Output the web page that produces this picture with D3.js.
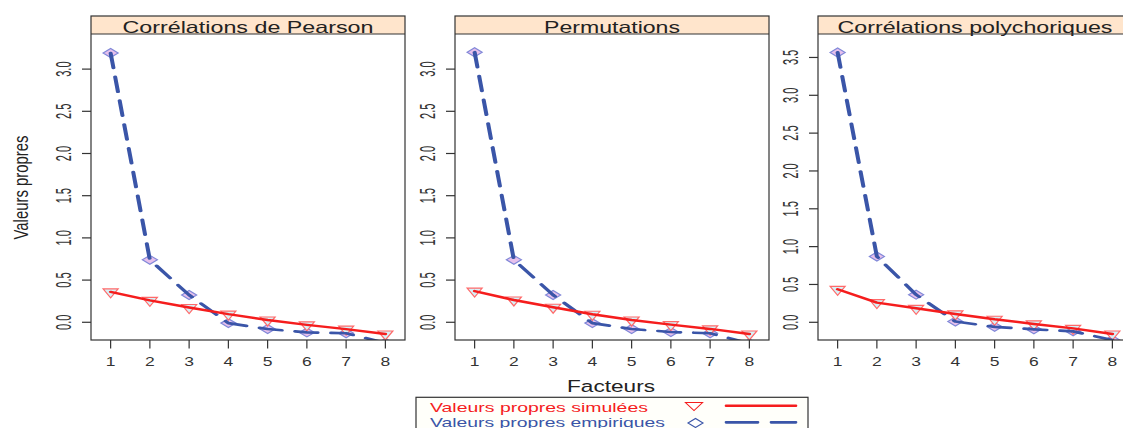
<!DOCTYPE html>
<html><head><meta charset="utf-8">
<script src="https://cdn.jsdelivr.net/npm/d3@7"></script>
<style>body{margin:0;background:#fff}svg{display:block}text{font-family:"Liberation Sans",Arial,sans-serif}</style>
</head><body>
<svg id="c" width="1123" height="428"></svg>
<script>
const factors = [1,2,3,4,5,6,7,8];
const panelTitles = ["Corrélations de Pearson","Permutations","Corrélations polychoriques"];
const pearsonSim = [0.36,0.26,0.175,0.097,0.027,-0.03,-0.081,-0.139];
const pearsonEmp = [3.19,0.74,0.323,-0.01,-0.08,-0.12,-0.13,-0.245];
const permSim = [0.37,0.264,0.178,0.095,0.027,-0.028,-0.079,-0.139];
const permEmp = [3.20,0.74,0.323,-0.01,-0.08,-0.115,-0.13,-0.25];
const polySim = [0.436,0.26,0.185,0.11,0.04,-0.022,-0.08,-0.155];
const polyEmp = [3.566,0.87,0.365,0.01,-0.06,-0.093,-0.12,-0.235];
const yTicks12 = [0,0.5,1,1.5,2,2.5,3];
const yTicks3 = [0,0.5,1,1.5,2,2.5,3,3.5];
const yTickLabels12 = ["0.0","0.5","1.0","1.5","2.0","2.5","3.0"];
const yTickLabels3 = ["0.0","0.5","1.0","1.5","2.0","2.5","3.0","3.5"];
const xLabel = "Facteurs", yLabel = "Valeurs propres";
const legendLabels = ["Valeurs propres simulées","Valeurs propres empiriques"];

const simSeries = [pearsonSim, permSim, polySim];
const empSeries = [pearsonEmp, permEmp, polyEmp];
const tickSets = [[yTicks12,yTickLabels12],[yTicks12,yTickLabels12],[yTicks3,yTickLabels3]];
const yDomains = [[-0.21,3.416],[-0.21,3.416],[-0.234,3.81]];
const panelX = [91,455,818];
const PW = 314, TOP = 16, STRIP = 34, BOT = 340;
const K = 1.5; // horizontal stretch of the original image
const RED = "#f51d1d", BLUE = "#3a55a8";

const svg = d3.select("#c");
const defs = svg.append("defs");

function tri(cx, cy, w, h){ // down-pointing, centroid at cy
  return `M${cx-w/2},${cy-h/3}L${cx+w/2},${cy-h/3}L${cx},${cy+2*h/3}Z`;
}
function dia(cx, cy, w, h){
  return `M${cx-w/2},${cy}L${cx},${cy-h/2}L${cx+w/2},${cy}L${cx},${cy+h/2}Z`;
}

panelTitles.forEach((title, p) => {
  const x0 = panelX[p];
  const xs = d3.scaleLinear().domain([0.5,8.5]).range([0, PW]);
  const xsS = d3.scaleLinear().domain([0.5,8.5]).range([0, PW/K]);
  const ys = d3.scaleLinear().domain(yDomains[p]).range([BOT, STRIP]);
  const g = svg.append("g").attr("transform", `translate(${x0},0)`);

  // strip
  g.append("rect").attr("x",0).attr("y",TOP).attr("width",PW).attr("height",STRIP-TOP)
    .attr("fill","#ffe5cc");
  g.append("text").attr("x",PW/2).attr("y",32.5).attr("text-anchor","middle")
    .attr("font-size",16.5).attr("fill","#222")
    .attr("textLength", [251,136,275][p]).attr("lengthAdjust","spacingAndGlyphs").text(title);

  // clip
  defs.append("clipPath").attr("id","clip"+p).append("rect")
    .attr("x",0).attr("y",STRIP).attr("width",PW).attr("height",BOT-STRIP);
  const cg = g.append("g").attr("clip-path",`url(#clip${p})`);

  const sim = simSeries[p], emp = empSeries[p];
  // markers
  cg.selectAll("path.em").data(emp).join("path").attr("class","em")
    .attr("d",(d,i)=>dia(xs(factors[i]), ys(d), 15, 9))
    .attr("fill","#e6c0ec").attr("stroke","#8088d8").attr("stroke-width",1.2);
  cg.selectAll("path.sm").data(sim).join("path").attr("class","sm")
    .attr("d",(d,i)=>tri(xs(factors[i]), ys(d), 15, 9))
    .attr("fill","#d6f2f8").attr("stroke","#ff6a6a").attr("stroke-width",1.2);

  // lines in stretched space
  const sg = cg.append("g").attr("transform",`scale(${K},1)`);
  const line = d3.line().x((d,i)=>xsS(factors[i])).y(d=>ys(d));
  sg.append("path").attr("d", line(emp)).attr("fill","none").attr("stroke",BLUE)
    .attr("stroke-width",2.7).attr("stroke-linecap","round").attr("stroke-linejoin","round")
    .attr("stroke-dasharray","15,9");
  sg.append("path").attr("d", line(sim)).attr("fill","none").attr("stroke",RED)
    .attr("stroke-width",2.4).attr("stroke-linecap","round").attr("stroke-linejoin","round");

  // frame
  g.append("rect").attr("x",0).attr("y",TOP).attr("width",PW).attr("height",BOT-TOP)
    .attr("fill","none").attr("stroke","#333").attr("stroke-width",1.2);
  g.append("line").attr("x1",0).attr("x2",PW).attr("y1",STRIP).attr("y2",STRIP)
    .attr("stroke","#333").attr("stroke-width",1.2);

  // y axis
  const [yt, ytl] = tickSets[p];
  yt.forEach((v,i)=>{
    g.append("line").attr("x1",-9).attr("x2",0).attr("y1",ys(v)).attr("y2",ys(v))
      .attr("stroke","#333").attr("stroke-width",1.2);
    g.append("text").attr("transform",`translate(-20.5,${ys(v)}) scale(2.0,1) rotate(-90)`)
      .attr("text-anchor","middle").attr("font-size",11).attr("fill","#333").text(ytl[i]);
  });
  // x axis
  factors.forEach(f=>{
    g.append("line").attr("x1",xs(f)).attr("x2",xs(f)).attr("y1",BOT).attr("y2",BOT+8.5)
      .attr("stroke","#333").attr("stroke-width",1.2);
    g.append("text").attr("transform",`translate(${xs(f)},366) scale(1.4,1)`)
      .attr("text-anchor","middle").attr("font-size",12.5).attr("fill","#333").text(f);
  });
});

// axis titles
svg.append("text").attr("x",611).attr("y",391.5).attr("text-anchor","middle")
  .attr("font-size",16.3).attr("fill","#222").attr("textLength",88)
  .attr("lengthAdjust","spacingAndGlyphs").text(xLabel);
svg.append("text").attr("transform","translate(27.5,187.5) scale(1.36,1) rotate(-90)")
  .attr("text-anchor","middle").attr("font-size",14.9).attr("fill","#222").text(yLabel);

// legend
const lg = svg.append("g");
lg.append("rect").attr("x",416).attr("y",397.3).attr("width",392).attr("height",50)
  .attr("fill","#fffffa").attr("stroke","#333").attr("stroke-width",1.2);
lg.append("text").attr("x",430).attr("y",411.7).attr("font-size",12.6).attr("fill",RED)
  .attr("textLength",218).attr("lengthAdjust","spacingAndGlyphs").text(legendLabels[0]);
lg.append("text").attr("x",430).attr("y",427).attr("font-size",12.6).attr("fill",BLUE)
  .attr("textLength",235).attr("lengthAdjust","spacingAndGlyphs").text(legendLabels[1]);
lg.append("path").attr("d",tri(694,405.2,17,8)).attr("fill","#fff").attr("stroke",RED).attr("stroke-width",1.1);
lg.append("path").attr("d",dia(695.5,423,15,9)).attr("fill","#fff").attr("stroke",BLUE).attr("stroke-width",1.1);
lg.append("line").attr("x1",726).attr("x2",796).attr("y1",405.7).attr("y2",405.7)
  .attr("stroke",RED).attr("stroke-width",2.6).attr("stroke-linecap","round");
lg.append("line").attr("x1",726).attr("x2",796).attr("y1",422.3).attr("y2",422.3)
  .attr("stroke",BLUE).attr("stroke-width",2.7).attr("stroke-linecap","round")
  .attr("stroke-dasharray","32,13");
</script>
</body></html>
